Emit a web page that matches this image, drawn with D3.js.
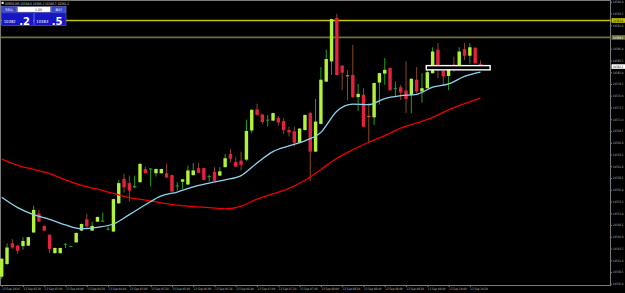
<!DOCTYPE html>
<html>
<head>
<meta charset="utf-8">
<script src="https://cdn.jsdelivr.net/npm/d3@7"></script>
<style>
  body { margin: 0; background: #000; }
  svg { display: block; }
</style>
</head>
<body>
<svg id="chart"></svg>
<script>
// GER30 M5 bars
var opens = [10337.5,10340.2,10344.6,10344.1,10344.0,10344.1,10346.9,10350.9,10348.3,10346.4,
  10342.5,10342.5,10344.4,10343.9,10344.8,10347.3,10349.7,10347.3,10349.2,10349.3,
  10347.6,10347.1,10353.1,10358.3,10357.4,10356.5,10357.6,10360.4,10360.4,10359.5,
  10359.5,10359.5,10359.1,10356.8,10357.7,10357.1,10359.1,10360.6,10360.6,10358.8,
  10359.8,10359.0,10360.8,10363.6,10361.9,10362.2,10362.4,10368.6,10373.1,10372.0,
  10370.8,10370.7,10371.3,10370.6,10368.7,10368.4,10366.0,10368.7,10372.3,10364.1,
  10370.0,10379.0,10383.3,10392.5,10382.4,10380.4,10380.4,10375.7,10376.2,10371.7,
  10371.4,10378.8,10380.7,10381.9,10377.5,10377.8,10377.1,10376.2,10379.4,10376.9,
  10377.6,10380.8,10385.8,10381.3,10380.2,10382.6,10382.4,10385.9,10384.5,10386.2,
  10382.8];
var highs = [10341.5,10344.6,10345.5,10344.3,10345.9,10346.0,10352.6,10351.7,10348.4,10346.5,
  10343.7,10343.7,10344.6,10344.1,10346.9,10348.8,10350.9,10349.2,10350.3,10351.1,
  10348.2,10354.1,10358.1,10359.4,10359.0,10359.0,10361.6,10360.9,10360.6,10360.5,
  10360.5,10361.5,10359.2,10357.6,10358.3,10361.1,10361.7,10361.7,10360.7,10359.2,
  10360.8,10360.8,10363.6,10364.7,10362.9,10364.1,10370.9,10373.1,10374.3,10372.1,
  10371.9,10372.4,10371.7,10371.2,10369.4,10369.4,10369.1,10372.0,10372.6,10375.3,
  10382.1,10385.8,10392.4,10393.4,10382.5,10381.5,10386.8,10378.5,10377.6,10374.4,
  10378.8,10380.9,10384.0,10382.0,10379.0,10378.3,10383.3,10379.7,10382.1,10380.8,
  10381.9,10386.3,10387.2,10381.4,10382.5,10384.3,10386.3,10387.2,10387.2,10386.3,
  10383.5];
var lows = [10337.0,10340.0,10343.4,10342.3,10343.2,10344.0,10346.8,10349.1,10347.2,10342.5,
  10342.4,10342.4,10343.6,10343.8,10344.7,10347.2,10347.5,10347.2,10349.1,10349.2,
  10347.3,10347.0,10353.0,10355.4,10353.5,10356.3,10357.5,10359.5,10356.7,10358.8,
  10359.4,10358.5,10355.5,10355.8,10356.1,10357.0,10359.0,10359.5,10358.0,10357.7,
  10357.8,10358.9,10360.7,10361.8,10360.8,10360.1,10362.1,10368.0,10371.8,10370.0,
  10369.4,10370.6,10369.6,10367.9,10367.3,10365.2,10365.9,10368.6,10357.9,10364.0,
  10369.9,10378.9,10380.4,10380.3,10377.2,10375.0,10375.5,10372.8,10369.3,10365.9,
  10369.8,10374.1,10378.3,10376.9,10375.8,10375.1,10372.3,10372.3,10376.5,10374.5,
  10377.5,10380.7,10379.7,10378.3,10377.2,10381.1,10382.3,10383.6,10382.8,10382.8,
  10382.0];
var closes = [10341.3,10343.7,10343.7,10343.0,10345.1,10345.9,10351.7,10349.2,10347.3,10343.4,
  10343.6,10343.6,10344.5,10344.0,10346.8,10348.7,10348.2,10348.3,10350.2,10349.4,
  10347.7,10354.0,10357.4,10356.5,10355.8,10356.8,10361.5,10359.5,10360.5,10360.4,
  10360.4,10358.6,10355.6,10356.9,10358.2,10360.1,10360.1,10359.6,10358.1,10358.9,
  10357.9,10359.9,10362.7,10362.6,10360.9,10361.3,10368.5,10373.0,10371.9,10370.4,
  10370.9,10372.3,10370.3,10368.7,10368.2,10366.0,10369.0,10371.9,10364.1,10370.5,
  10379.4,10383.8,10392.3,10380.4,10380.9,10380.1,10375.7,10376.4,10369.4,10371.5,
  10378.7,10380.8,10381.5,10377.2,10377.6,10376.7,10375.3,10379.6,10376.9,10377.6,
  10381.0,10385.4,10381.5,10380.1,10382.4,10381.9,10385.4,10384.5,10386.3,10382.9,
  10382.2];

// moving averages, read every third bar
var maBars = [0,3,6,9,12,15,18,21,24,27,30,33,36,39,42,45,48,51,54,57,60,63,66,69,72,75,78,81,84,87,90];
var maFast = [10354.4,10352.2,10350.7,10349.7,10348.5,10347.7,10348.0,10348.7,10350.7,10352.8,
  10354.7,10355.5,10356.6,10357.4,10358.1,10359.0,10361.7,10364.1,10365.3,10366.4,
  10368.2,10372.7,10374.2,10374.1,10375.4,10376.0,10376.3,10377.8,10378.5,10380.1,10381.0];
var maSlow = [10362.5,10361.2,10360.3,10359.4,10358.1,10356.9,10356.1,10355.2,10354.3,10353.8,
  10353.2,10352.7,10352.4,10352.2,10351.9,10352.5,10354.0,10355.1,10356.3,10358.0,
  10360.3,10362.7,10364.5,10366.1,10367.5,10369.1,10370.2,10371.4,10373.0,10374.3,10375.5];

var priceTicks = [10396.0,10393.5,10391.0,10388.5,10386.0,10383.5,10381.0,10378.5,10376.0,10373.5,
  10371.0,10368.5,10366.0,10363.5,10361.0,10358.5,10356.0,10353.5,10351.0,10348.5,
  10346.0,10343.5,10341.0,10338.5,10336.0];
var timeBars = [0,4,8,12,16,20,24,28,32,36,40,44,48,52,56,60,64,68,72,76,80,84,88];
var timeLabels = ["13 Sep 2016","13 Sep 03:20","13 Sep 03:40","13 Sep 04:00","13 Sep 04:20",
  "13 Sep 04:40","13 Sep 05:00","13 Sep 05:20","13 Sep 05:40","13 Sep 06:00","13 Sep 06:20",
  "13 Sep 06:40","13 Sep 07:00","13 Sep 07:20","13 Sep 07:40","13 Sep 08:00","13 Sep 08:20",
  "13 Sep 08:40","13 Sep 09:00","13 Sep 09:20","13 Sep 09:40","13 Sep 10:00","13 Sep 10:20"];

var levelPrices = [10392.0, 10388.4];
var levelColors = ["#c4c400", "#6f6f3c"];
var bidPrice = 10382.2;
var boxObject = { fromBar: 80, toBar: 92, top: 10382.4, bottom: 10381.5 };
var header = "GER30,M5  10384.0 10385.2 10380.7 10382.2";

var width = 625, height = 293;
var axisX = 610.5, axisY = 285.5;
var smallFont = "'DejaVu Sans Condensed', 'Liberation Sans Narrow', sans-serif";

var svg = d3.select("#chart").attr("width", width).attr("height", height)
  .attr("font-family", "'DejaVu Sans', sans-serif");

svg.append("rect").attr("width", width).attr("height", height).attr("fill", "#000");

var x = d3.scaleLinear().domain([0, 90]).range([1.7, 480.5]);
var y = d3.scaleLinear().domain([10336.0, 10396.0]).range([283.7, 1.7]);

// frame
svg.append("rect").attr("x", 0.5).attr("y", 0.5)
  .attr("width", axisX - 0.5).attr("height", axisY - 0.5)
  .attr("fill", "none").attr("stroke", "#7a7a7a").attr("stroke-width", 1);

// horizontal level lines
svg.selectAll(".level").data(levelPrices).enter().append("line")
  .attr("x1", 1).attr("x2", axisX)
  .attr("y1", function(d) { return y(d); })
  .attr("y2", function(d) { return y(d); })
  .attr("stroke", function(d, i) { return levelColors[i]; })
  .attr("stroke-width", 1.6);

// candles
var bars = opens.map(function(o, i) {
  return { i: i, o: o, h: highs[i], l: lows[i], c: closes[i] };
});

svg.selectAll(".wick").data(bars).enter().append("line")
  .attr("x1", function(d) { return x(d.i); })
  .attr("x2", function(d) { return x(d.i); })
  .attr("y1", function(d) { return y(d.h); })
  .attr("y2", function(d) { return y(d.l); })
  .attr("stroke", function(d) { return d.c >= d.o ? "#22a022" : "#8a4a1c"; })
  .attr("stroke-width", 1);

svg.selectAll(".body").data(bars).enter().append("rect")
  .attr("x", function(d) { return x(d.i) - 1.7; })
  .attr("width", 3.4)
  .attr("y", function(d) { return y(Math.max(d.o, d.c)); })
  .attr("height", function(d) { return Math.max(1, Math.abs(y(d.o) - y(d.c))); })
  .attr("fill", function(d) {
    var small = Math.abs(d.c - d.o) < 0.35;
    if (d.c >= d.o) return small ? "#2a9a2a" : "#b4f23a";
    return small ? "#e0602a" : "#e4213f";
  });

// moving averages
var maLine = d3.line()
  .x(function(d, k) { return x(maBars[k]); })
  .y(function(d) { return y(d); })
  .curve(d3.curveMonotoneX);

svg.append("path").datum(maSlow).attr("d", maLine)
  .attr("fill", "none").attr("stroke", "#ee0000").attr("stroke-width", 1.3);
svg.append("path").datum(maFast).attr("d", maLine)
  .attr("fill", "none").attr("stroke", "#8fd3f0").attr("stroke-width", 1.3);

// rectangle object
svg.append("rect")
  .attr("x", x(boxObject.fromBar) - 1)
  .attr("y", y(boxObject.top))
  .attr("width", x(boxObject.toBar) - x(boxObject.fromBar))
  .attr("height", y(boxObject.bottom) - y(boxObject.top))
  .attr("fill", "#000").attr("stroke", "#fff").attr("stroke-width", 1.4);

// price labels of the lines and bid
var tagData = [
  { p: levelPrices[0], fill: "#c4c400", text: "#000" },
  { p: levelPrices[1], fill: "#6f6f3c", text: "#fff" },
  { p: bidPrice, fill: "#fff", text: "#000" }
];

// price axis (ticks hidden under a tag are dropped)
var shownTicks = priceTicks.filter(function(t) {
  return tagData.every(function(d) { return Math.abs(y(t) - y(d.p)) > 3; });
});
var yAxis = d3.axisRight(y).tickValues(shownTicks).tickSize(1.5).tickPadding(0.8)
  .tickFormat(d3.format(".1f"));
svg.append("g").attr("transform", "translate(" + axisX + ",0)").call(yAxis)
  .attr("font-family", smallFont)
  .call(function(g) { g.select(".domain").remove(); })
  .call(function(g) { g.selectAll("line").attr("stroke", "#7a7a7a"); })
  .call(function(g) {
    g.selectAll("text").attr("fill", "#b8b8b8").attr("font-size", 3.2)
      .attr("textLength", 10.5).attr("lengthAdjust", "spacingAndGlyphs");
  });

// time axis
var xAxis = d3.axisBottom(x).tickValues(timeBars).tickSize(1.5)
  .tickFormat(function(d, k) { return timeLabels[k]; });
svg.append("g").attr("transform", "translate(0," + axisY + ")").call(xAxis)
  .attr("font-family", smallFont)
  .call(function(g) { g.select(".domain").remove(); })
  .call(function(g) { g.selectAll("line").attr("stroke", "#7a7a7a"); })
  .call(function(g) {
    g.selectAll("text").attr("fill", "#b8b8b8").attr("font-size", 3.2)
      .attr("text-anchor", "start").attr("y", 2.2).attr("dy", "0.71em")
      .attr("textLength", 17.5).attr("lengthAdjust", "spacingAndGlyphs");
  });

var tags = svg.selectAll(".tag").data(tagData).enter().append("g");
tags.append("rect")
  .attr("x", axisX + 1).attr("y", function(d) { return y(d.p) - 2.3; })
  .attr("width", 13.5).attr("height", 4.6)
  .attr("fill", function(d) { return d.fill; });
tags.append("text")
  .attr("x", axisX + 2.2).attr("y", function(d) { return y(d.p); })
  .attr("dy", "0.35em").attr("font-size", 3.2).attr("font-family", smallFont)
  .attr("textLength", 10.5).attr("lengthAdjust", "spacingAndGlyphs")
  .attr("fill", function(d) { return d.text; })
  .text(function(d) { return d3.format(".1f")(d.p); });

// header line
svg.append("rect").attr("x", 1.5).attr("y", 1.8).attr("width", 2.2).attr("height", 2.2).attr("fill", "#ddd");
svg.append("text").attr("x", 5).attr("y", 4.6).attr("font-size", 3.4).attr("font-family", smallFont)
  .attr("textLength", 64).attr("lengthAdjust", "spacingAndGlyphs")
  .attr("fill", "#ddd").text(header);

// one-click trading panel
var panel = svg.append("g").attr("font-family", smallFont);
panel.append("rect").attr("x", 1.7).attr("y", 6.7).attr("width", 15).attr("height", 5.4)
  .attr("fill", "#3448d8").attr("stroke", "#8090ff").attr("stroke-width", 0.5);
panel.append("text").attr("x", 9.2).attr("y", 10.8).attr("text-anchor", "middle")
  .attr("font-size", 3.6).attr("fill", "#fff").text("SELL");
panel.append("rect").attr("x", 17.5).attr("y", 6.7).attr("width", 33).attr("height", 5.4)
  .attr("fill", "#fff").attr("stroke", "#9aa0c0").attr("stroke-width", 0.5);
panel.append("text").attr("x", 38.5).attr("y", 10.8).attr("text-anchor", "middle")
  .attr("font-size", 3.6).attr("fill", "#333").text("1.00");
panel.append("rect").attr("x", 51.5).attr("y", 6.7).attr("width", 14.5).attr("height", 5.4)
  .attr("fill", "#3448d8").attr("stroke", "#8090ff").attr("stroke-width", 0.5);
panel.append("text").attr("x", 58.7).attr("y", 10.8).attr("text-anchor", "middle")
  .attr("font-size", 3.6).attr("fill", "#fff").text("BUY");

var quotes = [
  { x: 1.7, main: "10382", tail: ".2" },
  { x: 34.3, main: "10383", tail: ".5" }
];
var q = panel.selectAll(".quote").data(quotes).enter().append("g");
q.append("rect").attr("x", function(d) { return d.x; }).attr("y", 12.8)
  .attr("width", 31.7).attr("height", 12.6)
  .attr("fill", "#1616c4").attr("stroke", "#5a62ff").attr("stroke-width", 0.6);
q.append("text").attr("x", function(d) { return d.x + 2; }).attr("y", 23.2)
  .attr("font-size", 4.2).attr("fill", "#fff").text(function(d) { return d.main; });
q.append("text").attr("x", function(d) { return d.x + 17.5; }).attr("y", 24.6)
  .attr("font-size", 10).attr("font-weight", "bold").attr("fill", "#fff")
  .attr("font-family", "'DejaVu Sans', sans-serif")
  .text(function(d) { return d.tail; });
</script>
</body>
</html>
